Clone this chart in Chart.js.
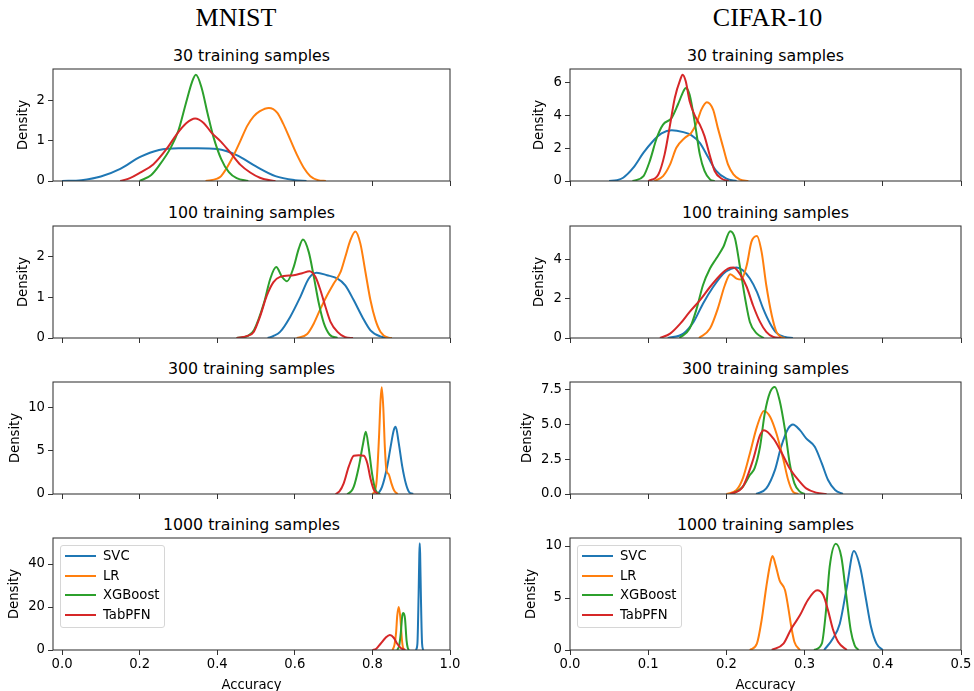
<!DOCTYPE html>
<html>
<head>
<meta charset="utf-8">
<script src="https://cdn.jsdelivr.net/npm/chart.js@4.4.1/dist/chart.umd.min.js"></script>
<style>
  html, body { margin: 0; padding: 0; background: #fff; width: 974px; height: 691px; overflow: hidden; position: relative; font-family: 'DejaVu Sans', sans-serif; color: #000; }
  .col-title { position: absolute; font-family: 'Liberation Serif', 'Times New Roman', serif; font-size: 26px; line-height: 26px; white-space: nowrap; transform: translateX(-50%); }
  .sub-title { position: absolute; font-size: 15.8px; line-height: 15.8px; white-space: nowrap; transform: translateX(-50%); }
  .panel { position: absolute; }
  .legend { position: absolute; width: 105px; height: 83px; box-sizing: border-box; border: 1px solid #d6d6d6; border-radius: 3px; background: rgba(255,255,255,0.8); }
  .legend .swatch { position: absolute; left: 4px; width: 31px; height: 2px; }
  .legend .label { position: absolute; left: 42px; font-size: 13.2px; line-height: 13.2px; white-space: nowrap; }
</style>
</head>
<body>
<script>
// ---- data (x = accuracy, y = density) ----
const methods = ['SVC', 'LR', 'XGBoost', 'TabPFN'];
const sampleSizes = [30, 100, 300, 1000];
const datasetNames = ['MNIST', 'CIFAR-10'];

const mnistXTicks = [0, 0.2, 0.4, 0.6, 0.8, 1.0];
const cifarXTicks = [0, 0.1, 0.2, 0.3, 0.4, 0.5];
const mnistYTicks = [[0, 1, 2], [0, 1, 2], [0, 5, 10], [0, 20, 40]];
const cifarYTicks = [[0, 2, 4, 6], [0, 2, 4], [0, 2.5, 5, 7.5], [0, 5, 10]];
const mnistYMax = [2.775, 2.765, 13.0, 52.1];
const cifarYMax = [6.81, 5.71, 8.02, 10.77];

const mnist30Svc = [[0.0,0],[0.05,0.02],[0.1,0.11],[0.15,0.3],[0.2,0.59],[0.25,0.77],[0.3,0.81],[0.35,0.81],[0.4,0.79],[0.45,0.64],[0.5,0.36],[0.55,0.12],[0.6,0.02],[0.63,0]];
const mnist30Lr = [[0.37,0],[0.4,0.06],[0.41,0.12],[0.435,0.5],[0.46,1.0],[0.477,1.36],[0.494,1.6],[0.51,1.73],[0.533,1.81],[0.555,1.69],[0.57,1.42],[0.588,1.03],[0.605,0.66],[0.623,0.33],[0.64,0.12],[0.66,0.02],[0.68,0]];
const mnist30Xgb = [[0.2,0],[0.23,0.15],[0.25,0.38],[0.28,0.82],[0.3,1.25],[0.32,1.95],[0.335,2.45],[0.345,2.63],[0.36,2.3],[0.375,1.68],[0.39,1.1],[0.41,0.55],[0.43,0.22],[0.45,0.07],[0.48,0]];
const mnist30Tab = [[0.15,0],[0.175,0.07],[0.2,0.2],[0.235,0.41],[0.27,0.8],[0.295,1.15],[0.32,1.43],[0.343,1.55],[0.365,1.44],[0.385,1.2],[0.41,0.97],[0.435,0.69],[0.46,0.4],[0.485,0.21],[0.51,0.08],[0.54,0.01],[0.55,0]];

const mnist100Svc = [[0.53,0],[0.545,0.05],[0.562,0.15],[0.588,0.52],[0.614,1.01],[0.636,1.47],[0.656,1.61],[0.683,1.55],[0.709,1.47],[0.73,1.3],[0.752,0.93],[0.774,0.52],[0.795,0.19],[0.82,0.04],[0.85,0]];
const mnist100Lr = [[0.605,0],[0.632,0.1],[0.649,0.36],[0.666,0.72],[0.683,1.05],[0.7,1.34],[0.718,1.63],[0.73,2.0],[0.743,2.41],[0.756,2.63],[0.769,2.33],[0.782,1.63],[0.795,0.93],[0.808,0.44],[0.821,0.15],[0.84,0.01],[0.85,0]];
const mnist100Xgb = [[0.45,0],[0.48,0.06],[0.495,0.2],[0.52,0.85],[0.537,1.47],[0.552,1.75],[0.567,1.51],[0.58,1.4],[0.597,1.75],[0.61,2.2],[0.621,2.43],[0.636,2.12],[0.649,1.51],[0.662,0.85],[0.675,0.36],[0.69,0.08],[0.71,0]];
const mnist100Tab = [[0.45,0],[0.48,0.06],[0.494,0.15],[0.51,0.52],[0.528,1.05],[0.545,1.38],[0.562,1.51],[0.597,1.55],[0.619,1.6],[0.638,1.65],[0.653,1.51],[0.666,1.18],[0.679,0.77],[0.692,0.4],[0.71,0.15],[0.73,0.02],[0.75,0]];

const mnist300Svc = [[0.81,0],[0.818,0.25],[0.825,0.85],[0.838,3.17],[0.847,5.5],[0.855,7.4],[0.86,7.8],[0.868,5.87],[0.877,3.17],[0.886,1.24],[0.894,0.27],[0.905,0]];
const mnist300Lr = [[0.8,0],[0.806,0.3],[0.811,1.6],[0.817,6.6],[0.821,10.9],[0.824,12.4],[0.828,10.1],[0.832,5.5],[0.836,2.8],[0.842,2.3],[0.849,1.24],[0.856,0.4],[0.865,0]];
const mnist300Xgb = [[0.735,0],[0.745,0.3],[0.752,0.85],[0.765,3.17],[0.776,5.87],[0.783,7.22],[0.79,5.5],[0.799,2.4],[0.808,0.46],[0.82,0]];
const mnist300Tab = [[0.705,0],[0.715,0.3],[0.726,1.24],[0.739,3.17],[0.752,4.44],[0.765,4.5],[0.778,4.44],[0.787,3.55],[0.795,1.8],[0.804,0.46],[0.815,0]];

const mnist1000Svc = [[0.912,0],[0.916,3],[0.919,25],[0.921,45],[0.922,49.7],[0.923,45],[0.925,25],[0.928,3],[0.931,0]];
const mnist1000Lr = [[0.852,0],[0.857,2.5],[0.861,8],[0.864,16],[0.868,20],[0.872,15],[0.876,5],[0.879,1],[0.883,0]];
const mnist1000Xgb = [[0.864,0],[0.869,2],[0.873,7.6],[0.877,16],[0.88,17.2],[0.884,14.6],[0.888,4.5],[0.891,1],[0.894,0]];
const mnist1000Tab = [[0.8,0],[0.81,0.6],[0.821,2.9],[0.834,5.7],[0.845,7.0],[0.855,5.7],[0.864,2.9],[0.874,0.8],[0.885,0]];

const cifar30Svc = [[0.05,0],[0.06,0.05],[0.068,0.2],[0.081,0.81],[0.094,1.72],[0.106,2.42],[0.117,2.89],[0.13,3.09],[0.145,2.97],[0.155,2.79],[0.166,2.32],[0.177,1.41],[0.187,0.61],[0.2,0.14],[0.213,0]];
const cifar30Lr = [[0.108,0],[0.119,0.3],[0.128,1.01],[0.136,2.02],[0.147,2.63],[0.155,2.93],[0.162,3.54],[0.168,4.34],[0.175,4.79],[0.183,4.34],[0.189,3.23],[0.196,2.02],[0.202,1.01],[0.209,0.4],[0.217,0.1],[0.228,0]];
const cifar30Xgb = [[0.08,0],[0.094,0.3],[0.102,1.21],[0.111,2.63],[0.119,3.43],[0.13,3.84],[0.138,4.65],[0.145,5.45],[0.148,5.66],[0.153,5.25],[0.16,3.43],[0.166,1.62],[0.172,0.61],[0.179,0.1],[0.185,0]];
const cifar30Tab = [[0.1,0],[0.113,0.4],[0.121,1.62],[0.128,3.43],[0.134,5.05],[0.141,6.16],[0.144,6.46],[0.148,6.06],[0.153,4.85],[0.16,3.94],[0.166,3.43],[0.172,2.73],[0.179,1.52],[0.185,0.61],[0.194,0.14],[0.203,0]];

const cifar100Svc = [[0.125,0],[0.145,0.22],[0.158,0.82],[0.17,1.75],[0.183,2.6],[0.196,3.28],[0.207,3.54],[0.213,3.6],[0.221,3.45],[0.23,3.03],[0.239,2.35],[0.247,1.5],[0.256,0.73],[0.264,0.26],[0.275,0.05],[0.285,0]];
const cifar100Lr = [[0.165,0],[0.179,0.48],[0.189,1.5],[0.198,2.69],[0.205,3.25],[0.213,3.03],[0.219,2.98],[0.226,3.71],[0.232,4.9],[0.239,5.2],[0.245,4.39],[0.251,2.69],[0.258,1.16],[0.264,0.31],[0.27,0.05],[0.275,0]];
const cifar100Xgb = [[0.14,0],[0.153,0.48],[0.162,1.5],[0.17,2.69],[0.179,3.54],[0.187,4.05],[0.196,4.64],[0.205,5.44],[0.211,5.07],[0.217,3.71],[0.224,2.0],[0.23,0.82],[0.239,0.22],[0.248,0]];
const cifar100Tab = [[0.115,0],[0.128,0.22],[0.141,0.73],[0.153,1.33],[0.166,1.92],[0.179,2.6],[0.192,3.2],[0.202,3.54],[0.209,3.59],[0.217,3.28],[0.226,2.6],[0.234,1.67],[0.243,0.82],[0.251,0.31],[0.26,0.05],[0.27,0]];

const cifar300Svc = [[0.238,0],[0.251,0.4],[0.262,1.71],[0.27,3.38],[0.279,4.69],[0.285,4.98],[0.294,4.57],[0.302,3.98],[0.313,3.38],[0.322,2.19],[0.33,1.0],[0.339,0.29],[0.349,0]];
const cifar300Lr = [[0.2,0],[0.213,0.29],[0.221,1.12],[0.23,2.9],[0.239,4.81],[0.248,5.95],[0.256,5.52],[0.264,4.33],[0.273,2.43],[0.279,1.0],[0.285,0.17],[0.292,0]];
const cifar300Xgb = [[0.208,0],[0.221,0.52],[0.23,1.36],[0.236,1.83],[0.243,3.38],[0.249,5.76],[0.256,7.31],[0.262,7.67],[0.268,6.71],[0.275,4.57],[0.281,2.19],[0.287,0.76],[0.294,0.17],[0.3,0]];
const cifar300Tab = [[0.205,0],[0.221,0.52],[0.234,2.43],[0.243,4.21],[0.248,4.57],[0.26,3.98],[0.27,3.02],[0.281,1.83],[0.292,1.0],[0.302,0.4],[0.315,0.1],[0.328,0]];

const cifar1000Svc = [[0.325,0],[0.336,1.09],[0.345,2.53],[0.354,6.06],[0.363,9.52],[0.371,7.98],[0.378,5.1],[0.385,2.21],[0.392,0.61],[0.4,0]];
const cifar1000Lr = [[0.23,0],[0.239,0.61],[0.245,2.85],[0.251,6.06],[0.256,8.3],[0.259,9.04],[0.263,8.14],[0.268,6.7],[0.275,5.74],[0.279,4.13],[0.283,2.21],[0.287,0.77],[0.294,0]];
const cifar1000Xgb = [[0.312,0],[0.322,0.61],[0.327,3.49],[0.332,7.98],[0.34,10.22],[0.347,8.94],[0.353,5.42],[0.359,1.89],[0.364,0.45],[0.369,0]];
const cifar1000Tab = [[0.258,0],[0.273,0.61],[0.283,2.05],[0.294,3.33],[0.304,4.78],[0.316,5.74],[0.324,5.26],[0.33,3.81],[0.336,2.05],[0.343,0.77],[0.354,0]];

const mnistCurves = [
  [mnist30Svc, mnist30Lr, mnist30Xgb, mnist30Tab],
  [mnist100Svc, mnist100Lr, mnist100Xgb, mnist100Tab],
  [mnist300Svc, mnist300Lr, mnist300Xgb, mnist300Tab],
  [mnist1000Svc, mnist1000Lr, mnist1000Xgb, mnist1000Tab]
];
const cifarCurves = [
  [cifar30Svc, cifar30Lr, cifar30Xgb, cifar30Tab],
  [cifar100Svc, cifar100Lr, cifar100Xgb, cifar100Tab],
  [cifar300Svc, cifar300Lr, cifar300Xgb, cifar300Tab],
  [cifar1000Svc, cifar1000Lr, cifar1000Xgb, cifar1000Tab]
];

// ---- layout / style ----
const colors = ['#1f77b4', '#ff7f0e', '#2ca02c', '#d62728'];
const fontFamily = "'DejaVu Sans', sans-serif";
const tickFont = { family: fontFamily, size: 13.2 };
const axisColor = '#333';
const rowTops = [69, 226, 382, 538];
const plotH = 112;
const cols = [
  { left: 53, width: 397, xMin: -0.0233, xMax: 1.0, xTicks: mnistXTicks, yTicks: mnistYTicks, yMax: mnistYMax, curves: mnistCurves, labelGap: [29.3, 29.3, 37.6, 38.3], titleX: 236 },
  { left: 570, width: 391, xMin: 0, xMax: 0.5, xTicks: cifarXTicks, yTicks: cifarYTicks, yMax: cifarYMax, curves: cifarCurves, labelGap: [30, 30, 42.7, 38.3], titleX: 767.5 }
];
const YW = 52, PT = 14, PR = 15;

const framePlugin = {
  id: 'frame',
  afterDatasetsDraw(chart) {
    const a = chart.chartArea, c = chart.ctx;
    c.save();
    c.strokeStyle = axisColor;
    c.lineWidth = 1.05;
    c.strokeRect(a.left, a.top, a.right - a.left, a.bottom - a.top);
    c.restore();
  }
};

function addDiv(cls, text, left, top) {
  const d = document.createElement('div');
  d.className = cls;
  d.textContent = text;
  d.style.left = left + 'px';
  d.style.top = top + 'px';
  document.body.appendChild(d);
  return d;
}

function addLegend(left, top) {
  const box = document.createElement('div');
  box.className = 'legend';
  box.style.left = left + 'px';
  box.style.top = top + 'px';
  methods.forEach((m, i) => {
    const cy = 10 + i * 19.5;
    const sw = document.createElement('div');
    sw.className = 'swatch';
    sw.style.top = (cy - 1) + 'px';
    sw.style.background = colors[i];
    const lb = document.createElement('div');
    lb.className = 'label';
    lb.style.top = (cy - 7) + 'px';
    lb.textContent = m;
    box.appendChild(sw);
    box.appendChild(lb);
  });
  document.body.appendChild(box);
}

cols.forEach((col, ci) => {
  addDiv('col-title', datasetNames[ci], col.titleX, 5);

  sampleSizes.forEach((n, row) => {
    const top = rowTops[row];
    const last = row === sampleSizes.length - 1;
    const XH = last ? 43 : 14;

    addDiv('sub-title', n + ' training samples', col.left + col.width / 2, top - 21.4);

    const canvas = document.createElement('canvas');
    canvas.className = 'panel';
    const cw = YW + col.width + PR, ch = PT + plotH + XH;
    canvas.width = cw;
    canvas.height = ch;
    canvas.style.left = (col.left - YW) + 'px';
    canvas.style.top = (top - PT) + 'px';
    document.body.appendChild(canvas);

    const yt = col.yTicks[row];
    const dec = yt.some(v => !Number.isInteger(v)) ? 1 : 0;

    new Chart(canvas.getContext('2d'), {
      type: 'line',
      data: {
        datasets: col.curves[row].map((pts, k) => ({
          label: methods[k],
          data: pts.map(([x, y]) => ({ x, y })),
          borderColor: colors[k],
          borderWidth: 2,
          pointRadius: 0,
          fill: false,
          cubicInterpolationMode: 'monotone',
          order: methods.length - k
        }))
      },
      options: {
        responsive: false,
        animation: false,
        events: [],
        layout: { padding: { top: PT, right: PR, left: 0, bottom: 0 } },
        plugins: { legend: { display: false }, tooltip: { enabled: false } },
        scales: {
          x: {
            type: 'linear',
            min: col.xMin,
            max: col.xMax,
            afterBuildTicks: s => { s.ticks = col.xTicks.map(v => ({ value: v })); },
            afterFit: s => { s.height = XH; },
            grid: { display: true, drawOnChartArea: false, drawTicks: true, tickLength: 5, color: axisColor },
            border: { display: false },
            ticks: { display: last, autoSkip: false, maxRotation: 0, padding: 2, color: '#000', font: tickFont, callback: v => Number(v).toFixed(1) },
            title: { display: last, text: 'Accuracy', color: '#000', font: tickFont, padding: { top: 0, bottom: 0 } }
          },
          y: {
            type: 'linear',
            min: 0,
            max: col.yMax[row],
            afterBuildTicks: s => { s.ticks = yt.map(v => ({ value: v })); },
            afterFit: s => { s.width = YW; },
            grid: { display: true, drawOnChartArea: false, drawTicks: true, tickLength: 5, color: axisColor },
            border: { display: false },
            ticks: { autoSkip: false, padding: 3, color: '#000', font: tickFont, callback: v => Number(v).toFixed(dec) },
            title: { display: true, text: 'Density', color: '#000', font: tickFont, padding: { top: Math.max(0, 44.08 - col.labelGap[row]), bottom: 0 } }
          }
        }
      },
      plugins: [framePlugin]
    });

    if (last) addLegend(col.left + 7, top + 7);
  });
});
</script>
</body>
</html>
